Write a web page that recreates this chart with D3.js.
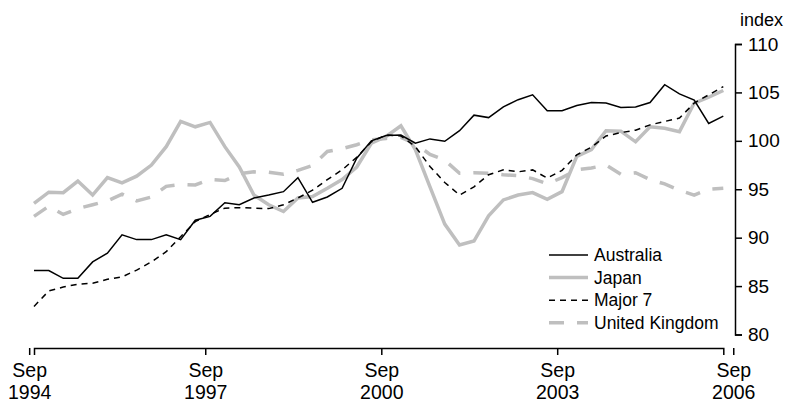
<!DOCTYPE html>
<html lang="en">
<head>
<meta charset="UTF-8">
<title>Index: Australia, Japan, Major 7, United Kingdom</title>
<script src="https://d3js.org/d3.v7.min.js"></script>
<style>
  body { margin: 0; background: #fff; }
  svg text { font-family: "Liberation Sans", Arial, sans-serif; fill: #000; }
</style>
</head>
<body>
<svg id="chart" width="787" height="403"></svg>
<script>
// quarterly, Sep 1994 .. Sep 2006
const quarters = d3.timeMonth.every(3).range(new Date(1994, 8, 1), new Date(2006, 8, 2));
const xTickDates = [new Date(1994, 8, 1), new Date(1997, 8, 1), new Date(2000, 8, 1), new Date(2003, 8, 1), new Date(2006, 8, 1)];
const yTicks = [80, 85, 90, 95, 100, 105, 110];

const australia = [86.6, 86.6, 85.8, 85.8, 87.5, 88.4, 90.3, 89.8, 89.8, 90.3, 89.8, 91.8,
  92.2, 93.6, 93.4, 94.1, 94.4, 94.75, 96.2, 93.65, 94.2, 95.1, 98.2, 100.0,
  100.55, 100.6, 99.75, 100.2, 99.95, 101.05, 102.65, 102.4, 103.5, 104.25, 104.75, 103.1,
  103.1, 103.65, 103.95, 103.9, 103.45, 103.5, 103.95, 105.8, 104.85, 104.2, 101.8, 102.55];
const japan = [93.55, 94.7, 94.65, 95.85, 94.4, 96.2, 95.65, 96.35, 97.5, 99.4, 102.0, 101.45,
  101.9, 99.4, 97.3, 94.4, 93.4, 92.7, 94.1, 94.25, 95.1, 96.0, 97.3, 99.75,
  100.45, 101.55, 99.1, 95.25, 91.4, 89.25, 89.65, 92.25, 93.9, 94.4, 94.65, 93.95,
  94.75, 98.4, 99.1, 101.05, 101.0, 99.9, 101.45, 101.3, 100.95, 103.9, 104.5, 105.2, 105.95];
const major7 = [82.9, 84.5, 84.9, 85.2, 85.3, 85.7, 85.95, 86.65, 87.5, 88.55, 90.1, 91.65,
  92.4, 93.05, 93.1, 93.05, 93.0, 93.4, 94.1, 94.9, 96.0, 97.0, 98.3, 99.9,
  100.6, 100.5, 99.4, 97.35, 95.7, 94.4, 95.25, 96.5, 97.0, 96.8, 97.0, 96.15,
  96.95, 98.55, 99.35, 100.5, 100.85, 101.1, 101.65, 102.0, 102.35, 103.9, 104.75, 105.6, 106.55];
const unitedKingdom = [92.2, 93.25, 92.4, 93.0, 93.4, 93.8, 94.5, 93.8, 94.2, 95.3, 95.5, 95.45,
  96.0, 95.9, 96.6, 96.8, 96.75, 96.55, 96.95, 97.45, 98.9, 99.2, 99.6, 100.1,
  100.25, 100.35, 99.7, 98.6, 98.0, 96.65, 96.7, 96.65, 96.5, 96.4, 96.1, 95.55,
  96.2, 97.0, 97.2, 97.5, 96.55, 96.7, 96.0, 95.55, 94.9, 94.4, 95.0, 95.1];

const seriesNames = ['Australia', 'Japan', 'Major 7', 'United Kingdom'];
const seriesValues = [australia, japan, major7, unitedKingdom];

const styles = {
  'Australia':      { color: '#000', width: 1.5, dash: null },
  'Japan':          { color: '#bfbfbf', width: 3.5, dash: null },
  'Major 7':        { color: '#000', width: 1.5, dash: '6,5' },
  'United Kingdom': { color: '#bfbfbf', width: 3.5, dash: '15,13' }
};

const svg = d3.select('#chart');
const x = d3.scaleTime().domain([quarters[0], quarters[quarters.length - 1]]).range([34, 723.3]);
const y = d3.scaleLinear().domain([80, 110]).range([334.5, 44]);

// x axis, two-line labels
const xAxis = svg.append('g')
  .attr('transform', 'translate(0,348)')
  .call(d3.axisBottom(x).tickValues(xTickDates).tickSize(7).tickSizeOuter(7).tickFormat(() => ''));
xAxis.select('.domain').attr('stroke', '#000').attr('stroke-width', 1.5);
xAxis.selectAll('.tick line').attr('stroke-width', 1.5);
xAxis.selectAll('.tick').each(function (d) {
  const t = d3.select(this);
  t.append('text').attr('y', 377 - 348).attr('text-anchor', 'middle')
    .style('font-size', '19.5px').text('Sep');
  t.append('text').attr('y', 399 - 348).attr('text-anchor', 'middle')
    .style('font-size', '19.5px').text(d.getFullYear());
});

// y axis on the right
const yAxis = svg.append('g')
  .attr('transform', 'translate(735,0)')
  .call(d3.axisRight(y).tickValues(yTicks).tickSize(7).tickSizeOuter(7).tickPadding(6));
yAxis.select('.domain').attr('stroke', '#000').attr('stroke-width', 1.5);
yAxis.selectAll('.tick line').attr('stroke-width', 1.5);
yAxis.selectAll('.tick text').style('font-size', '19px').attr('fill', '#000');

svg.append('text').attr('x', 783).attr('y', 26).attr('text-anchor', 'end')
  .style('font-size', '18px').text('index');

// lines: grey series first, black on top
const line = d3.line().x((d, i) => x(quarters[i])).y(d => y(d));
[1, 3, 2, 0].forEach(k => {
  const s = styles[seriesNames[k]];
  svg.append('path')
    .datum(seriesValues[k])
    .attr('fill', 'none')
    .attr('stroke', s.color)
    .attr('stroke-width', s.width)
    .attr('stroke-dasharray', s.dash)
    .attr('stroke-linejoin', 'miter')
    .attr('d', line);
});

// legend
const legend = svg.append('g').attr('transform', 'translate(549,255)');
seriesNames.forEach((name, i) => {
  const s = styles[name];
  const row = legend.append('g').attr('transform', `translate(0,${i * 22.6})`);
  row.append('line').attr('x1', 0).attr('x2', 39).attr('y1', 0).attr('y2', 0)
    .attr('stroke', s.color).attr('stroke-width', s.width).attr('stroke-dasharray', s.dash);
  row.append('text').attr('x', 45).attr('y', 6).style('font-size', '17.5px').text(name);
});
</script>
</body>
</html>
